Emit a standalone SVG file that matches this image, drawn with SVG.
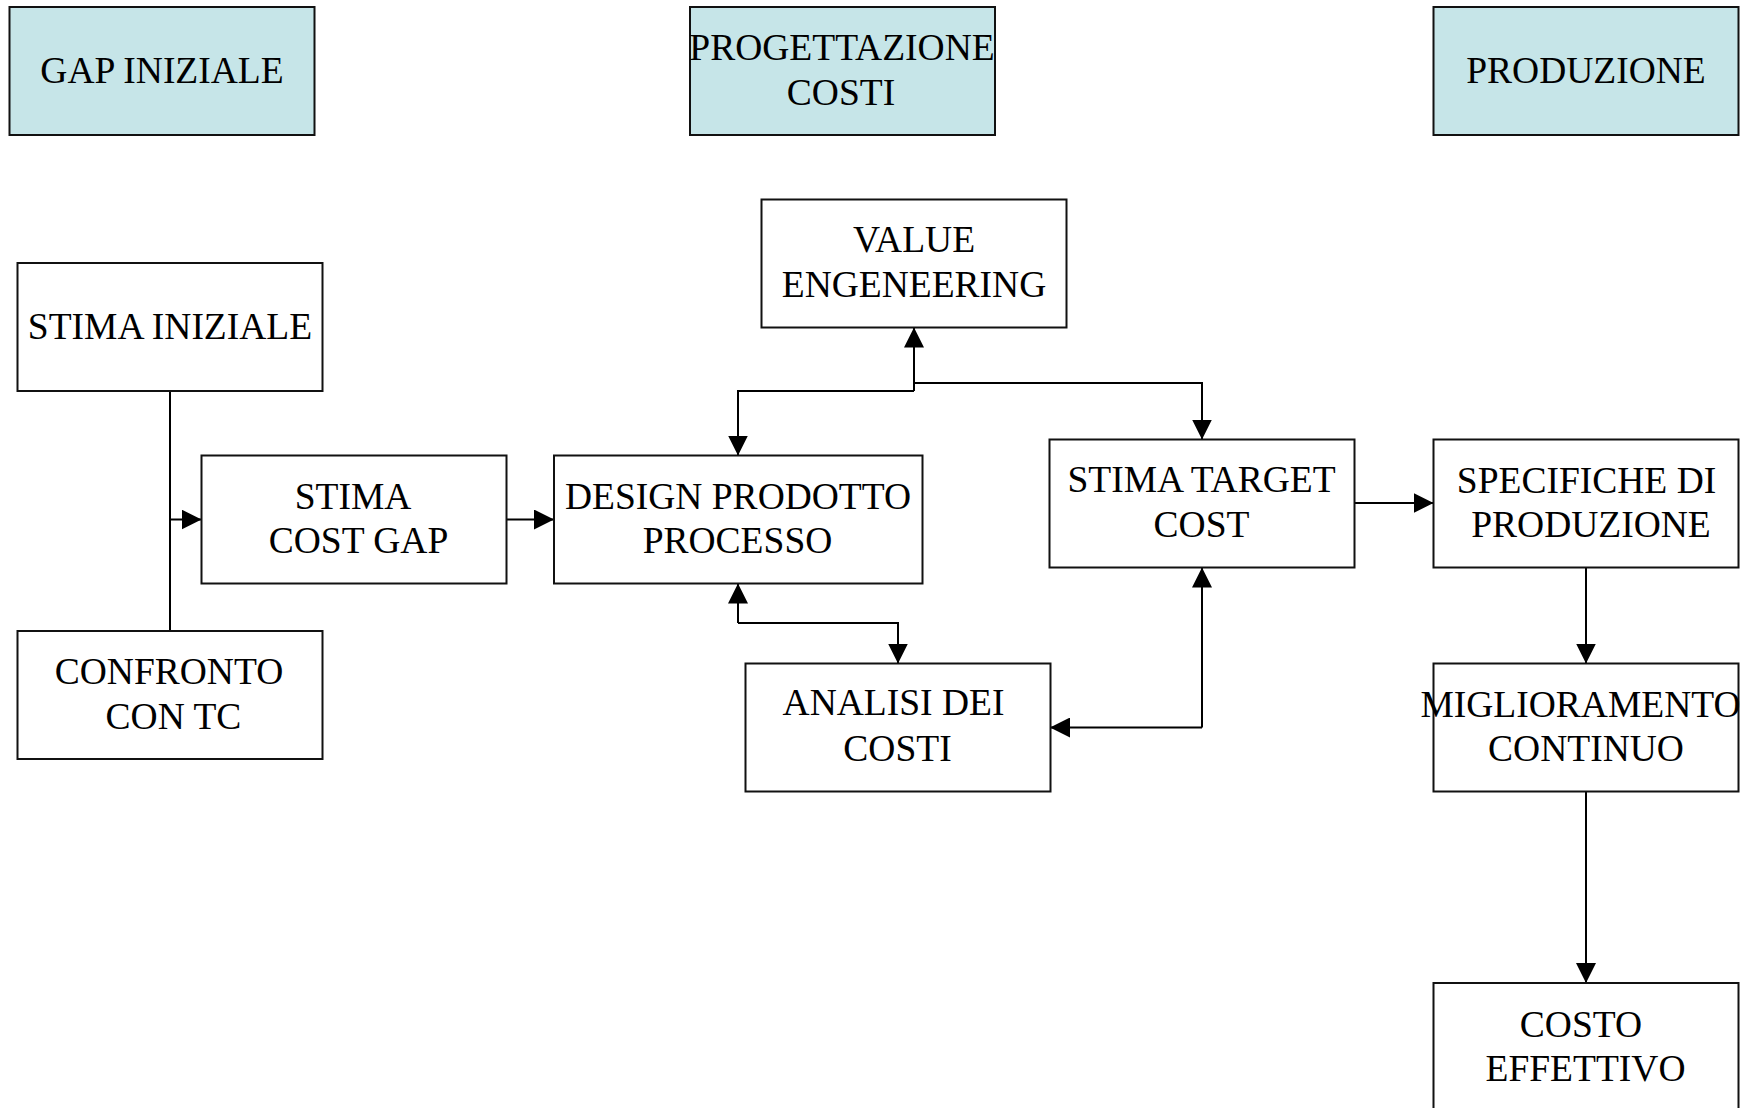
<svg xmlns="http://www.w3.org/2000/svg" width="1745" height="1108" viewBox="0 0 1745 1108">
<style>
  .box { fill: #ffffff; stroke: #111111; stroke-width: 2; }
  .hdr { fill: #c6e5e8; stroke: #111111; stroke-width: 2; }
  .t { font-family: "Liberation Serif", "Times New Roman", serif; font-size: 37.5px; text-anchor: middle; fill: #000000; }
  .c { fill: none; stroke: #000000; stroke-width: 2; }
</style>
<defs>
  <marker id="arr" viewBox="0 0 20 20" refX="20" refY="10" markerWidth="20" markerHeight="20" markerUnits="userSpaceOnUse" orient="auto">
    <path d="M0,0 L20,10 L0,20 z" fill="#000000"/>
  </marker>
</defs>
<rect width="1745" height="1108" fill="#ffffff"/>

<g id="connectors">
  <path class="c" d="M170,391 L170,631"/>
  <path class="c" d="M170,519.5 L201.5,519.5" marker-end="url(#arr)"/>
  <path class="c" d="M506.5,519.5 L554,519.5" marker-end="url(#arr)"/>
  <path class="c" d="M914,391 L914,327.5" marker-end="url(#arr)"/>
  <path class="c" d="M914,391 L738,391 L738,455.5" marker-end="url(#arr)"/>
  <path class="c" d="M914,383 L1202,383 L1202,439.5" marker-end="url(#arr)"/>
  <path class="c" d="M738,623 L738,583.5" marker-end="url(#arr)"/>
  <path class="c" d="M738,623 L898,623 L898,663.5" marker-end="url(#arr)"/>
  <path class="c" d="M1202,727.5 L1202,567.5" marker-end="url(#arr)"/>
  <path class="c" d="M1202,727.5 L1050,727.5" marker-end="url(#arr)"/>
  <path class="c" d="M1354.5,503 L1433.5,503" marker-end="url(#arr)"/>
  <path class="c" d="M1586,567.5 L1586,663.5" marker-end="url(#arr)"/>
  <path class="c" d="M1586,791.5 L1586,983" marker-end="url(#arr)"/>
</g>

<g id="gap-iniziale">
  <rect class="hdr" x="9.5" y="7" width="305" height="128"/>
  <text class="t" x="162" y="83">GAP INIZIALE</text>
</g>
<g id="progettazione-costi">
  <rect class="hdr" x="690" y="7" width="305" height="128"/>
  <text class="t" x="842" y="60">PROGETTAZIONE</text>
  <text class="t" x="841" y="105">COSTI</text>
</g>
<g id="produzione">
  <rect class="hdr" x="1433.5" y="7" width="305" height="128"/>
  <text class="t" x="1586" y="83">PRODUZIONE</text>
</g>
<g id="stima-iniziale">
  <rect class="box" x="17.5" y="263" width="305" height="128"/>
  <text class="t" x="170" y="339">STIMA INIZIALE</text>
</g>
<g id="value-engeneering">
  <rect class="box" x="761.5" y="199.5" width="305" height="128"/>
  <text class="t" x="914" y="251.5">VALUE</text>
  <text class="t" x="914" y="296.5">ENGENEERING</text>
</g>
<g id="stima-cost-gap">
  <rect class="box" x="201.5" y="455.5" width="305" height="128"/>
  <text class="t" x="353" y="508.5">STIMA</text>
  <text class="t" x="358.5" y="553">COST GAP</text>
</g>
<g id="design-prodotto">
  <rect class="box" x="554" y="455.5" width="368.5" height="128"/>
  <text class="t" x="738" y="508.5">DESIGN PRODOTTO</text>
  <text class="t" x="737.5" y="553">PROCESSO</text>
</g>
<g id="stima-target-cost">
  <rect class="box" x="1049.5" y="439.5" width="305" height="128"/>
  <text class="t" x="1201.5" y="492">STIMA TARGET</text>
  <text class="t" x="1201.5" y="536.5">COST</text>
</g>
<g id="specifiche">
  <rect class="box" x="1433.5" y="439.5" width="305" height="128"/>
  <text class="t" x="1586.5" y="492.5">SPECIFICHE DI</text>
  <text class="t" x="1591" y="537">PRODUZIONE</text>
</g>
<g id="confronto">
  <rect class="box" x="17.5" y="631" width="305" height="128"/>
  <text class="t" x="169" y="684">CONFRONTO</text>
  <text class="t" x="173.5" y="729">CON TC</text>
</g>
<g id="analisi">
  <rect class="box" x="745.5" y="663.5" width="305" height="128"/>
  <text class="t" x="893.5" y="715">ANALISI DEI</text>
  <text class="t" x="897.5" y="760.5">COSTI</text>
</g>
<g id="miglioramento">
  <rect class="box" x="1433.5" y="663.5" width="305" height="128"/>
  <text class="t" x="1580.5" y="717">MIGLIORAMENTO</text>
  <text class="t" x="1586" y="761">CONTINUO</text>
</g>
<g id="costo-effettivo">
  <rect class="box" x="1433.5" y="983" width="305" height="128"/>
  <text class="t" x="1581" y="1036.5">COSTO</text>
  <text class="t" x="1585.5" y="1080.5">EFFETTIVO</text>
</g>
</svg>
